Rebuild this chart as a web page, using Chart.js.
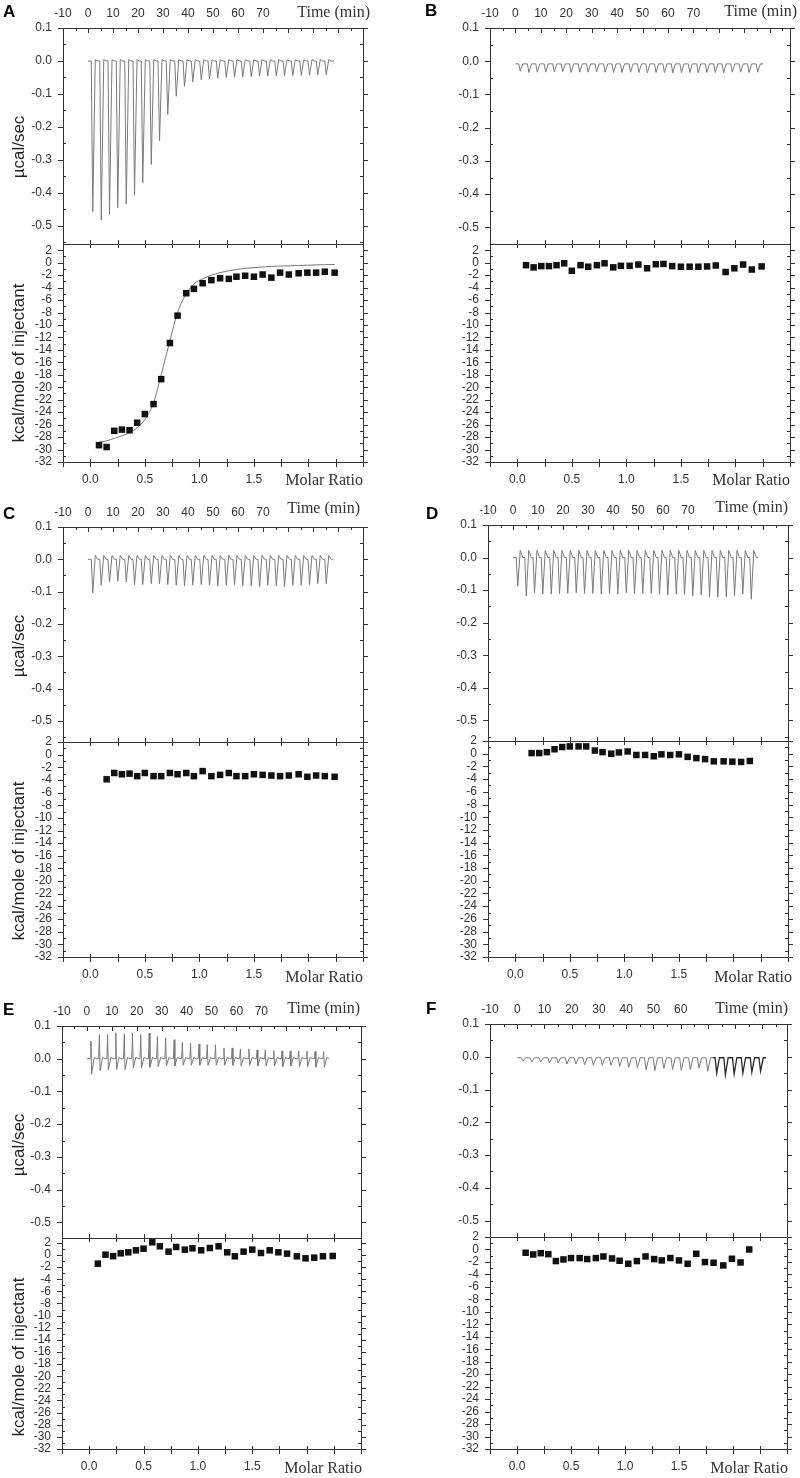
<!DOCTYPE html>
<html>
<head>
<meta charset="utf-8">
<title>ITC titrations A-F</title>
<script src="https://cdn.jsdelivr.net/npm/chart.js@4.4.1/dist/chart.umd.min.js"></script>
<style>
  body { margin: 0; background: #fff; width: 800px; height: 1478px; position: relative; overflow: hidden;
         font-family: 'Liberation Sans', Arial, sans-serif; }
  .box { position: absolute; }
  .txt { position: absolute; white-space: nowrap; color: #222; }
  .letter { font-weight: bold; font-size: 17px; line-height: 17px; color: #000; }
  .serif { font-family: 'Liberation Serif', 'Times New Roman', serif; font-size: 16px; line-height: 16px; color: #333; }
  .ytitle { font-size: 17px; line-height: 17px; color: #222; }
</style>
</head>
<body>
<script>
// molar ratio of each injection (shared by all titrations)
const molarRatio = [0.08, 0.15, 0.22, 0.29, 0.36, 0.43, 0.50, 0.58, 0.65, 0.73, 0.80, 0.88, 0.95, 1.03, 1.11,
                    1.19, 1.27, 1.34, 1.42, 1.50, 1.58, 1.66, 1.74, 1.82, 1.91, 1.99, 2.07, 2.15, 2.24];
// injection times (min)
const injTime = [1.3, 4.7, 8.0, 11.3, 14.7, 18.0, 21.3, 24.7, 28.0, 31.3, 34.7, 38.0, 41.3, 44.7, 48.0,
                 51.3, 54.7, 58.0, 61.3, 64.7, 68.0, 71.3, 74.7, 78.0, 81.3, 84.7, 88.0, 91.3, 94.7];
const injTimeF = [1.5, 4.7, 8.0, 11.2, 14.4, 17.6, 20.9, 24.1, 27.3, 30.6, 33.8, 37.0, 40.3, 43.5,
                  46.7, 49.9, 53.2, 56.4, 59.6, 62.9, 66.1, 69.3, 72.6, 75.8, 79.0, 82.2, 85.5, 88.7];

// raw thermogram peak values (µcal/sec)
const peakA = [-0.457, -0.482, -0.465, -0.445, -0.434, -0.407, -0.369, -0.314, -0.242, -0.162, -0.107, -0.077,
               -0.063, -0.057, -0.054, -0.052, -0.050, -0.049, -0.048, -0.047, -0.046, -0.046, -0.045, -0.045,
               -0.044, -0.043, -0.043, -0.042, -0.042];
const peakB = [-0.030, -0.034, -0.033, -0.033, -0.032, -0.031, -0.034, -0.033, -0.033, -0.032, -0.033, -0.034,
               -0.034, -0.033, -0.034, -0.035, -0.034, -0.034, -0.035, -0.034, -0.034, -0.035, -0.034, -0.034,
               -0.035, -0.033, -0.033, -0.034, -0.033];
const peakC = [-0.104, -0.080, -0.070, -0.068, -0.070, -0.078, -0.078, -0.075, -0.075, -0.078, -0.080, -0.082,
               -0.080, -0.078, -0.080, -0.082, -0.080, -0.078, -0.082, -0.082, -0.085, -0.080, -0.082, -0.085,
               -0.080, -0.080, -0.078, -0.075, -0.075];
const peakD = [-0.088, -0.118, -0.108, -0.112, -0.112, -0.110, -0.110, -0.108, -0.110, -0.110, -0.112, -0.110,
               -0.112, -0.108, -0.110, -0.110, -0.110, -0.112, -0.115, -0.112, -0.115, -0.118, -0.115, -0.120,
               -0.122, -0.120, -0.118, -0.112, -0.128];
const upE = [0.054, 0.074, 0.074, 0.079, 0.076, 0.078, 0.074, 0.078, 0.068, 0.064, 0.058, 0.050, 0.047, 0.045,
             0.043, 0.043, 0.033, 0.033, 0.030, 0.030, 0.027, 0.027, 0.025, 0.024, 0.024, 0.024, 0.023, 0.023, 0.022];
const peakE = [-0.047, -0.037, -0.035, -0.033, -0.033, -0.028, -0.028, -0.026, -0.024, -0.022, -0.022, -0.020,
               -0.020, -0.020, -0.020, -0.020, -0.020, -0.020, -0.022, -0.020, -0.022, -0.022, -0.022, -0.024,
               -0.022, -0.024, -0.024, -0.026, -0.026];
const peakF = [-0.013, -0.016, -0.016, -0.019, -0.019, -0.022, -0.022, -0.024, -0.026, -0.026, -0.026, -0.029,
               -0.032, -0.034, -0.039, -0.042, -0.036, -0.039, -0.042, -0.039, -0.034, -0.044, -0.050, -0.055,
               -0.053, -0.050, -0.047, -0.044];

// integrated heats (kcal/mole of injectant)
const heatA = [-29.3, -29.6, -27.0, -26.8, -26.9, -25.7, -24.3, -22.7, -18.7, -12.9, -8.5, -4.9, -4.2, -3.3, -2.8,
               -2.5, -2.6, -2.25, -2.1, -2.25, -1.9, -2.4, -1.6, -1.9, -1.7, -1.6, -1.6, -1.45, -1.6];
const fitA = [-28.8, -28.6, -28.2, -27.8, -27.3, -26.5, -25.2, -22.5, -18.0, -12.5, -8.0, -5.0, -3.4, -2.6, -2.0,
              -1.6, -1.3, -1.1, -0.9, -0.8, -0.7, -0.6, -0.55, -0.5, -0.45, -0.4, -0.35, -0.32, -0.3];
const heatB = [-0.4, -0.75, -0.55, -0.55, -0.4, -0.1, -1.3, -0.4, -0.65, -0.4, -0.1, -0.75, -0.5, -0.5, -0.3,
               -0.9, -0.25, -0.2, -0.55, -0.65, -0.65, -0.65, -0.6, -0.45, -1.5, -0.9, -0.3, -1.1, -0.6];
const heatC = [-3.9, -2.9, -3.1, -3.0, -3.4, -2.9, -3.4, -3.4, -2.9, -3.1, -2.9, -3.4, -2.6, -3.4, -3.2, -2.9,
               -3.4, -3.4, -3.1, -3.2, -3.3, -3.4, -3.3, -3.1, -3.5, -3.3, -3.4, -3.5];
const heatD = [0.1, 0.1, 0.25, 0.7, 1.05, 1.15, 1.15, 1.15, 0.5, 0.25, 0.0, 0.2, 0.35, -0.2, -0.2, -0.4, -0.1,
               -0.2, -0.1, -0.5, -0.7, -0.85, -1.2, -1.2, -1.25, -1.3, -1.15];
const heatE = [-1.43, 0.05, -0.2, 0.27, 0.44, 0.77, 1.04, 2.09, 1.43, 0.55, 1.32, 0.88, 1.1, 0.77, 1.15, 1.43,
               0.44, -0.22, 0.55, 0.88, 0.33, 0.77, 0.44, 0.22, -0.22, -0.55, -0.44, -0.22, -0.16];
const heatF = [-0.53, -0.8, -0.59, -0.75, -1.86, -1.6, -1.38, -1.38, -1.54, -1.38, -1.12, -1.44, -1.81, -2.29,
               -1.86, -1.12, -1.54, -1.76, -1.38, -1.76, -2.29, -0.69, -2.02, -2.13, -2.56, -1.49, -2.08, 0.0];

const timeLabelTxt = 'Time (min)';
const molarLabelTxt = 'Molar Ratio';
const powerTitle = 'µcal/sec';
const heatTitle = 'kcal/mole of injectant';

// layout of the six panels (pixels)
const panels = [
  { name: 'A', x0: 0, left: 63, right: 363, top: 28, mid: 244, bottom: 462, yMin: -0.555, hMax: 3, tMax: 110, tLast: 70,
    times: injTime, peaks: peakA, ups: null, base: 0, bump: 0.004, tEnd: 98.4,
    xs: molarRatio, heat: heatA, fit: fitA, letter: [3, 11], timeTxt: [370, 12], molarTxt: [363, 480], titles: true },
  { name: 'B', x0: 400, left: 490, right: 790, top: 28, mid: 244, bottom: 462, yMin: -0.55, hMax: 3, tMax: 108, tLast: 70,
    times: injTime, peaks: peakB, ups: null, base: -0.008, bump: 0, tEnd: 96.7,
    xs: molarRatio, heat: heatB, fit: null, letter: [425, 10], timeTxt: [797, 11], molarTxt: [790, 480], titles: false },
  { name: 'C', x0: 0, left: 63, right: 363, top: 527, mid: 742, bottom: 957, yMin: -0.565, hMax: 2, tMax: 110, tLast: 70,
    times: injTime, peaks: peakC, ups: null, base: 0, bump: 0.012, tEnd: 98,
    xs: molarRatio.slice(1), heat: heatC, fit: null, letter: [3, 513], timeTxt: [360, 508], molarTxt: [363, 977], titles: true },
  { name: 'D', x0: 400, left: 488, right: 788, top: 525, mid: 741, bottom: 957, yMin: -0.563, hMax: 2, tMax: 110, tLast: 70,
    times: injTime, peaks: peakD, ups: null, base: 0, bump: 0.022, tEnd: 98,
    xs: molarRatio.slice(1, 28), heat: heatD, fit: null, letter: [426, 513], timeTxt: [788, 507], molarTxt: [792, 977], titles: false },
  { name: 'E', x0: 0, left: 62, right: 361, top: 1026, mid: 1238, bottom: 1449, yMin: -0.548, hMax: 2.8, tMax: 110, tLast: 70,
    times: injTime, peaks: peakE, ups: upE, base: 0, bump: 0.004, tEnd: 97.3,
    xs: molarRatio, heat: heatE, fit: null, letter: [3, 1009], timeTxt: [360, 1008], molarTxt: [362, 1468], titles: true },
  { name: 'F', x0: 400, left: 490, right: 787, top: 1024, mid: 1237, bottom: 1449, yMin: -0.55, hMax: 2, tMax: 99, tLast: 60,
    times: injTimeF, peaks: peakF, ups: null, base: -0.003, bump: 0, tEnd: 90.3, darkFrom: 71,
    xs: molarRatio.slice(0, 28), heat: heatF, fit: null, letter: [426, 1008], timeTxt: [788, 1008], molarTxt: [788, 1468], titles: false }
];

Chart.defaults.font.family = "'Liberation Sans', Arial, sans-serif";
Chart.defaults.color = '#333';

function steps(min, max, step) {
  const out = [];
  for (let k = Math.ceil(min / step - 1e-6); k <= Math.floor(max / step + 1e-6); k++) out.push(k * step);
  return out;
}
function isMult(v, m) { return Math.abs(v / m - Math.round(v / m)) < 1e-6; }

// frame and Origin-style tick marks on all four sides
const frameTicks = {
  id: 'frameTicks',
  afterDatasetsDraw(chart, args, o) {
    const { ctx, chartArea: a } = chart;
    const sx = chart.scales.x, sy = chart.scales.y;
    ctx.save();
    ctx.strokeStyle = '#333';
    ctx.lineWidth = 1;
    ctx.beginPath();
    const seg = (x1, y1, x2, y2) => { ctx.moveTo(x1, y1); ctx.lineTo(x2, y2); };
    steps(sy.min, sy.max, o.yMinor).forEach(v => {
      const y = Math.round(sy.getPixelForValue(v)) + 0.5;
      if (isMult(v, o.yMajor)) { seg(a.left - 5, y, a.left, y); seg(a.right, y, a.right + 5, y); }
      else { seg(a.left, y, a.left + 3, y); seg(a.right - 3, y, a.right, y); }
    });
    steps(sx.min, sx.max, o.xMinor).forEach(v => {
      const x = Math.round(sx.getPixelForValue(v)) + 0.5;
      if (o.timeAxis) {
        seg(x, a.top, x, a.top + (isMult(v, 10) ? 5 : 3));
      } else {
        seg(x, a.bottom - 3, x, a.bottom + 5);
        seg(x, a.top - 4, x, a.top + 4);
      }
    });
    ctx.stroke();
    ctx.strokeRect(Math.round(a.left) + 0.5, Math.round(a.top) + 0.5, Math.round(a.right - a.left), Math.round(a.bottom - a.top));
    ctx.restore();
  }
};

function buildTrace(p) {
  const pts = [{ x: 0, y: p.base }];
  p.times.forEach((t, i) => {
    pts.push({ x: t, y: p.base });
    if (p.ups) pts.push({ x: t + 0.3, y: p.ups[i] });
    pts.push({ x: t + 0.6, y: p.peaks[i] });
    pts.push({ x: t + 1.6, y: p.base + p.bump });
    pts.push({ x: t + 2.6, y: p.base });
  });
  pts.push({ x: p.tEnd, y: p.base });
  return pts;
}

function addBox(x, y, w, h) {
  const d = document.createElement('div');
  d.className = 'box';
  d.style.left = x + 'px'; d.style.top = y + 'px';
  d.style.width = w + 'px'; d.style.height = h + 'px';
  const c = document.createElement('canvas');
  d.appendChild(c);
  document.body.appendChild(d);
  return c;
}

function addText(cls, text, x, y, transform) {
  const d = document.createElement('div');
  d.className = 'txt ' + cls;
  d.textContent = text;
  d.style.left = x + 'px'; d.style.top = y + 'px';
  d.style.transform = transform;
  document.body.appendChild(d);
}

// keep the plot area fixed: no extra room for labels hanging past the ends
function fixY(w) { return s => { s.width = w; s.paddingTop = 0; s.paddingBottom = 0; }; }
function fixX(h) { return s => { s.height = h; s.paddingLeft = 0; s.paddingRight = 0; }; }

const tickFont = { size: 12 };
const padR = 8;

panels.forEach(p => {
  // ---- raw power trace ----
  const padL = p.left - p.x0, padT = 26;
  const topCanvas = addBox(p.x0, p.top - padT, p.right + padR - p.x0, p.mid + 1 - (p.top - padT));
  const dark = p.darkFrom;
  new Chart(topCanvas, {
    type: 'scatter',
    data: {
      datasets: [{
        data: buildTrace(p),
        showLine: true,
        pointRadius: 0,
        borderColor: '#7a7a7a',
        borderWidth: 1,
        segment: dark ? {
          borderColor: c => c.p0.parsed.x > dark ? '#2a2a2a' : '#7a7a7a',
          borderWidth: c => c.p0.parsed.x > dark ? 1.3 : 1
        } : undefined
      }]
    },
    options: {
      animation: false, responsive: true, maintainAspectRatio: false, events: [],
      layout: { padding: { left: 0, right: padR, top: 0, bottom: 1 } },
      plugins: { legend: { display: false }, tooltip: { enabled: false },
                 frameTicks: { xMinor: 5, yMinor: 0.05, yMajor: 0.1, timeAxis: true } },
      scales: {
        x: {
          type: 'linear', position: 'top', min: -10, max: p.tMax,
          grid: { display: false, drawTicks: false }, border: { display: false },
          ticks: { stepSize: 10, autoSkip: false, maxRotation: 0, padding: 7, font: tickFont,
                   callback: v => (v <= p.tLast ? String(v) : '') },
          afterFit: fixX(padT)
        },
        y: {
          type: 'linear', min: p.yMin, max: 0.1,
          grid: { display: false, drawTicks: false }, border: { display: false },
          ticks: { stepSize: 0.1, includeBounds: false, autoSkip: false, padding: 11, font: tickFont,
                   callback: v => v.toFixed(1) },
          afterFit: fixY(padL)
        }
      }
    },
    plugins: [frameTicks]
  });

  // ---- integrated heats ----
  const padTop = 8, padB = 28;
  const botCanvas = addBox(p.x0, p.mid - padTop, p.right + padR - p.x0, p.bottom + padB - (p.mid - padTop));
  const datasets = [{
    data: p.xs.map((x, i) => ({ x: x, y: p.heat[i] })),
    pointStyle: 'rect', pointRadius: 4.6, backgroundColor: '#111', borderWidth: 0, showLine: false
  }];
  if (p.fit) {
    datasets.push({
      data: p.xs.map((x, i) => ({ x: x, y: p.fit[i] })),
      showLine: true, pointRadius: 0, borderColor: '#777', borderWidth: 1, cubicInterpolationMode: 'monotone'
    });
  }
  new Chart(botCanvas, {
    type: 'scatter',
    data: { datasets: datasets },
    options: {
      animation: false, responsive: true, maintainAspectRatio: false, events: [],
      layout: { padding: { left: 0, right: padR, top: padTop, bottom: 0 } },
      plugins: { legend: { display: false }, tooltip: { enabled: false },
                 frameTicks: { xMinor: 0.25, yMinor: 1, yMajor: 2, timeAxis: false } },
      scales: {
        x: {
          type: 'linear', position: 'bottom', min: -0.25, max: 2.5,
          grid: { display: false, drawTicks: false }, border: { display: false },
          ticks: { stepSize: 0.25, autoSkip: false, maxRotation: 0, padding: 10, font: tickFont,
                   callback: v => ([0, 0.5, 1, 1.5].some(m => Math.abs(m - v) < 1e-6) ? v.toFixed(1) : '') },
          afterFit: fixX(padB)
        },
        y: {
          type: 'linear', min: -32, max: p.hMax,
          grid: { display: false, drawTicks: false }, border: { display: false },
          ticks: { stepSize: 2, includeBounds: false, autoSkip: false, padding: 11, font: tickFont,
                   callback: v => String(v) },
          afterFit: fixY(padL)
        }
      }
    },
    plugins: [frameTicks]
  });

  // ---- text ----
  addText('letter', p.name, p.letter[0], p.letter[1], 'translateY(-50%)');
  addText('serif', timeLabelTxt, p.timeTxt[0], p.timeTxt[1], 'translate(-100%, -50%)');
  addText('serif', molarLabelTxt, p.molarTxt[0], p.molarTxt[1], 'translate(-100%, -50%)');
  if (p.titles) {
    addText('ytitle', powerTitle, 18, p.top + 119, 'translate(-50%, -50%) rotate(-90deg)');
    addText('ytitle', heatTitle, 18, p.mid + 119, 'translate(-50%, -50%) rotate(-90deg)');
  }
});
</script>
</body>
</html>
